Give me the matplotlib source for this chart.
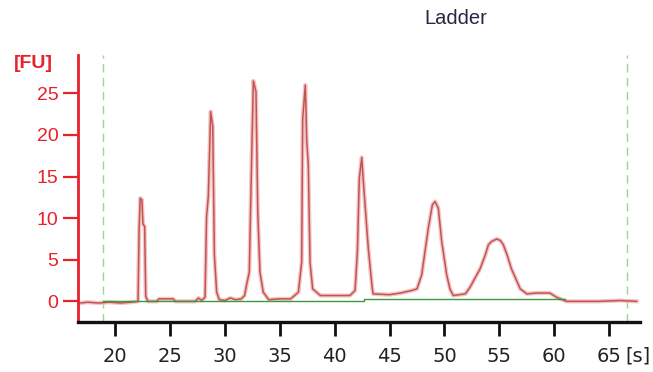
import matplotlib.pyplot as plt

# electropherogram trace: time [s] and fluorescence [FU]
trace_t = [16.9, 17.5, 18.5, 19.5, 20.5, 21.5, 22.1, 22.2, 22.3, 22.45, 22.55, 22.7, 22.8, 23.0,
           23.8, 24.0, 25.3, 25.5, 27.3, 27.6, 27.9, 28.2, 28.34, 28.5, 28.71, 28.9, 29.05, 29.26,
           29.5, 30.0, 30.5, 31.0, 31.5, 31.8, 32.0, 32.23, 32.45, 32.6, 32.84, 33.0, 33.2, 33.5,
           34.0, 35.0, 36.0, 36.7, 37.0, 37.09, 37.33, 37.46, 37.6, 37.76, 38.0, 38.7, 40.0, 41.4,
           41.86, 42.07, 42.25, 42.47, 42.68, 43.07, 43.4, 43.5, 45.0, 46.0, 47.0, 47.5, 47.93,
           48.53, 48.9, 49.14, 49.44, 49.75, 50.2, 50.5, 50.8, 51.9, 52.33, 53.24, 53.7, 54.0,
           54.3, 54.76, 55.1, 55.36, 55.7, 56.1, 56.9, 57.5, 58.4, 59.6, 60.2, 61.1, 64.0, 66.0, 67.5]
trace_fu = [-0.2, -0.1, -0.2, -0.1, -0.2, -0.1, 0.0, 8.8, 12.4, 12.2, 9.3, 9.0, 0.6, 0.0,
            0.0, 0.3, 0.3, 0.0, 0.0, 0.4, 0.1, 0.5, 10.2, 12.6, 22.8, 21.1, 5.6, 1.1,
            0.2, 0.1, 0.4, 0.2, 0.3, 0.7, 2.1, 3.5, 17.5, 26.5, 25.2, 10.8, 3.5, 1.1,
            0.2, 0.3, 0.3, 1.1, 4.7, 21.9, 26.0, 19.3, 16.5, 4.7, 1.5, 0.7, 0.7, 0.7,
            1.3, 5.9, 14.8, 17.3, 13.2, 6.3, 1.9, 0.9, 0.8, 1.0, 1.3, 1.5, 3.2,
            8.8, 11.6, 12.0, 11.2, 7.2, 3.2, 1.5, 0.7, 0.9, 1.7, 3.9, 5.5, 6.8,
            7.2, 7.5, 7.3, 6.8, 5.6, 3.9, 1.5, 0.9, 1.0, 1.0, 0.5, 0.0, 0.0, 0.1, 0.0]

# baseline (green)
base_t = [18.9, 42.7, 42.7, 61.0]
base_fu = [0.0, 0.0, 0.3, 0.3]

# start / end markers
markers = [18.9, 66.6]

xticks = [20, 25, 30, 35, 40, 45, 50, 55, 60, 65]
yticks = [0, 5, 10, 15, 20, 25]

red = "#e8202a"

fig = plt.figure(figsize=(6.53, 3.72), dpi=100)
ax = fig.add_axes([0.1194, 0.134, 0.980 - 0.1194, 0.852 - 0.134])

for m in markers:
    ax.axvline(m, color="#9ad69a", lw=1, ls=(0, (6, 4)), zorder=1)
ax.plot(trace_t, trace_fu, color="#f2c6c6", lw=3, zorder=2)
ax.plot(trace_t, trace_fu, color="#c45452", lw=1.1, zorder=3)
ax.plot(base_t, base_fu, color="#3c9a3c", lw=1, zorder=4)

ax.set_xlim(16.63, 67.8)
ax.set_ylim(-2.5, 29.6)
ax.set_xticks(xticks)
ax.set_yticks(yticks)

ax.spines["top"].set_visible(False)
ax.spines["right"].set_visible(False)
ax.spines["bottom"].set_linewidth(2.4)
ax.spines["bottom"].set_color("#111111")
ax.spines["left"].set_linewidth(2)
ax.spines["left"].set_color(red)

ax.tick_params(axis="x", direction="out", length=10, width=2, color="#111111", pad=8,
               labelsize=14, labelcolor="#222222")
ax.tick_params(axis="y", direction="out", length=11, width=1.6, color=red, pad=3,
               labelsize=14, labelcolor=red)
for lab in ax.get_xticklabels():
    lab.set_family(["Liberation Sans Narrow", "DejaVu Sans"])
for lab in ax.get_yticklabels():
    lab.set_family(["Liberation Sans", "DejaVu Sans"])

fig.text(33 / 653, 1 - 63 / 372, "[FU]", color=red, fontsize=14, fontweight="bold",
         ha="center", va="center", family=["Liberation Sans", "DejaVu Sans"])
fig.text(638 / 653, 1 - 356 / 372, "[s]", color="#222222", fontsize=14,
         ha="center", va="center", family=["Liberation Sans Narrow", "DejaVu Sans"])
fig.text(456 / 653, 1 - 18 / 372, "Ladder", color="#2a2545", fontsize=14.5,
         ha="center", va="center", family=["Liberation Sans", "DejaVu Sans"])

fig.savefig("out.png", dpi=100)
